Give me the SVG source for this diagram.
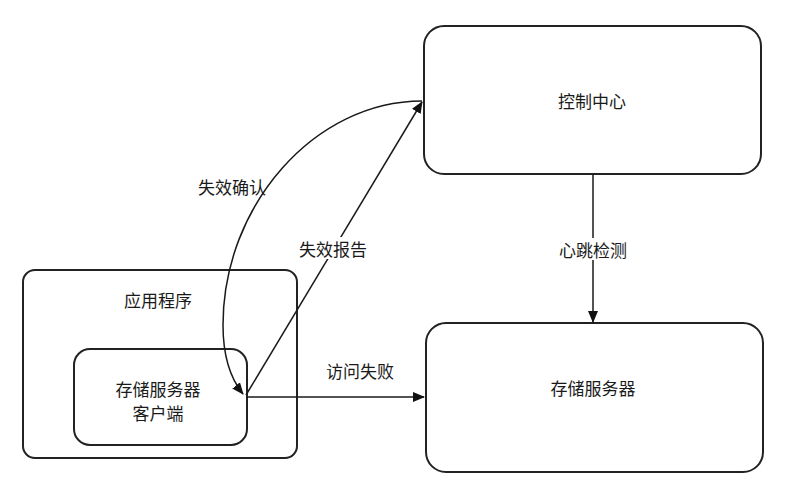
<svg xmlns="http://www.w3.org/2000/svg" width="791" height="490" viewBox="0 0 791 490">
<style>
.box{fill:#fff;stroke:#222;stroke-width:2}
.lbl{font-family:"Noto Sans CJK SC","Liberation Sans",sans-serif;font-size:17px;fill:#1a1a1a;text-anchor:middle;dominant-baseline:central}
.edge{fill:none;stroke:#1a1a1a;stroke-width:1.5}
.bg{fill:#fff}
</style>
<defs>
<marker id="arr" markerWidth="12" markerHeight="10" refX="11" refY="5" orient="auto" markerUnits="userSpaceOnUse">
<path d="M0,0 L12,5 L0,10 Z" fill="#111"/>
</marker>
</defs>
<rect width="791" height="490" fill="#fff"/>
<g id="control">
<rect class="box" x="424" y="26" width="337" height="148" rx="20"/>
<text class="lbl" x="592" y="100">控制中心</text>
</g>
<g id="storage">
<rect class="box" x="426" y="323" width="337" height="149" rx="20"/>
<text class="lbl" x="593" y="387">存储服务器</text>
</g>
<g id="app">
<rect class="box" x="23" y="270" width="274" height="188" rx="12"/>
<text class="lbl" x="158" y="299">应用程序</text>
</g>
<g id="client">
<rect class="box" x="74" y="349" width="173" height="96" rx="16"/>
<text class="lbl" x="158" y="388">存储服务器</text>
<text class="lbl" x="158" y="412">客户端</text>
</g>
<g id="connectors">
<path class="edge" d="M593,174 L593,322" marker-end="url(#arr)"/>
<path class="edge" d="M246,397 L424,397" marker-end="url(#arr)"/>
<path class="edge" d="M246,395 L422,102" marker-end="url(#arr)"/>
<path class="edge" d="M422,101 C315,101 223,205 223,325 C223,355 230,378 243,394" marker-end="url(#arr)"/>
<rect class="bg" x="555" y="238" width="76" height="22"/>
<text class="lbl" x="593" y="249">心跳检测</text>
<text class="lbl" x="360" y="370">访问失败</text>
<rect class="bg" x="296" y="237" width="74" height="22"/>
<text class="lbl" x="333" y="248">失效报告</text>
<text class="lbl" x="232" y="186">失效确认</text>
</g>
</svg>
